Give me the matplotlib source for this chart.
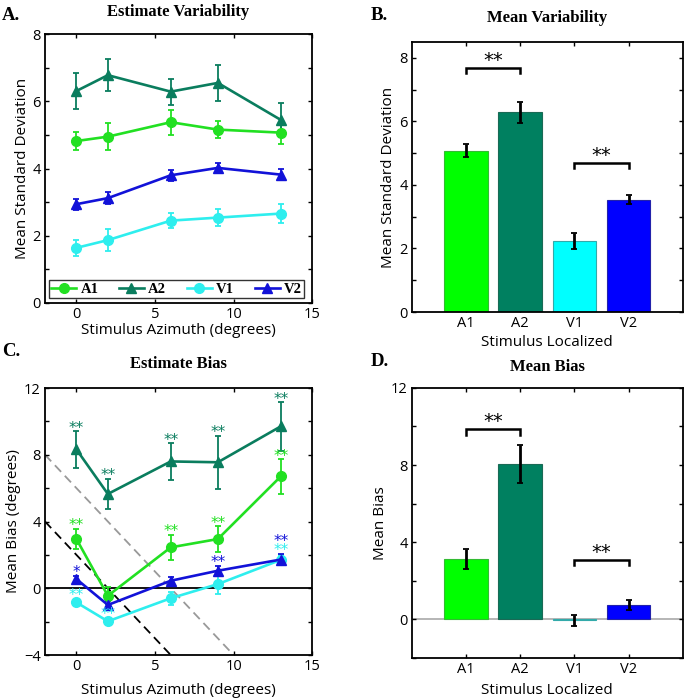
import matplotlib
matplotlib.use("Agg")
import matplotlib.pyplot as plt
from matplotlib.ticker import MultipleLocator, FuncFormatter
from matplotlib.lines import Line2D
import numpy as np

# ---------------- data ----------------
azimuth = [0, 2, 6, 9, 13]
series = ["A1", "A2", "V1", "V2"]

var_A1 = [4.82, 4.95, 5.38, 5.16, 5.07]
var_A1_err = [0.28, 0.40, 0.37, 0.25, 0.33]
var_A2 = [6.31, 6.78, 6.29, 6.55, 5.45]
var_A2_err = [0.53, 0.48, 0.39, 0.53, 0.50]
var_V1 = [1.64, 1.87, 2.45, 2.54, 2.66]
var_V1_err = [0.23, 0.33, 0.23, 0.26, 0.28]
var_V2 = [2.94, 3.12, 3.80, 4.02, 3.82]
var_V2_err = [0.16, 0.18, 0.16, 0.16, 0.17]

mean_var = [5.08, 6.28, 2.23, 3.54]
mean_var_err = [0.20, 0.32, 0.25, 0.13]

bias_A1 = [2.95, -0.45, 2.45, 2.95, 6.70]
bias_A1_err = [0.62, 0.50, 0.76, 0.76, 1.04]
bias_A2 = [8.32, 5.65, 7.60, 7.55, 9.70]
bias_A2_err = [1.10, 0.90, 1.10, 1.60, 1.45]
bias_V1 = [-0.85, -1.98, -0.60, 0.25, 1.70]
bias_V1_err = [0.22, 0.20, 0.40, 0.60, 0.30]
bias_V2 = [0.55, -1.00, 0.45, 1.05, 1.72]
bias_V2_err = [0.20, 0.22, 0.25, 0.30, 0.35]

# significance stars per point ('' = none)
stars_A1 = ["**", "", "**", "**", "**"]
stars_A2 = ["**", "**", "**", "**", "**"]
stars_V1 = ["**", "**", "", "", "**"]
stars_V2 = ["*", "", "", "**", "**"]

mean_bias = [3.13, 8.04, -0.05, 0.74]
mean_bias_err = [0.52, 0.98, 0.29, 0.26]

# ---------------- style ----------------
line_cols = {"A1": "#22e022", "A2": "#0a7d5e", "V1": "#2eeeee", "V2": "#1212d8"}
bar_cols = {"A1": "#00ff00", "A2": "#008060", "V1": "#00ffff", "V2": "#0000ff"}
bar_edges = {"A1": "#33bb33", "A2": "#1a6a55", "V1": "#33aaaa", "V2": "#2222aa"}
markers = {"A1": "o", "A2": "^", "V1": "o", "V2": "^"}

SANS = ["Open Sans", "DejaVu Sans"]
SERIF = ["Liberation Serif", "DejaVu Serif"]
plt.rcParams["font.family"] = SANS
plt.rcParams["font.size"] = 10.5
plt.rcParams["axes.linewidth"] = 1.3

fig = plt.figure(figsize=(6.85, 6.98), dpi=100)
axA = fig.add_axes([0.0657, 0.566, 0.390, 0.385])
axB = fig.add_axes([0.601, 0.553, 0.396, 0.387])
axC = fig.add_axes([0.0657, 0.0616, 0.390, 0.3825])
axD = fig.add_axes([0.601, 0.0573, 0.396, 0.387])


def style(ax, ystep, labstep):
    ax.tick_params(direction="in", top=True, right=True, length=3, width=1,
                   labelsize=10.5, pad=3)
    ax.yaxis.set_major_locator(MultipleLocator(ystep))
    ax.yaxis.set_major_formatter(FuncFormatter(
        lambda v, p: ("%d" % round(v)).replace("-", "\u2212")
        if abs(v / labstep - round(v / labstep)) < 1e-6 else ""))


def title(ax, text, letter, lx, ly, ty):
    fig.text(lx, ly, letter, family=SERIF, weight="bold", fontsize=13.5, va="center", ha="left")
    bb = ax.get_position()
    fig.text((bb.x0 + bb.x1) / 2, ty, text, family=SERIF, weight="bold", fontsize=12,
             ha="center", va="center")


# ---------------- Panel A ----------------
var_data = {"A1": (var_A1, var_A1_err), "A2": (var_A2, var_A2_err),
            "V1": (var_V1, var_V1_err), "V2": (var_V2, var_V2_err)}
for s in series:
    v, e = var_data[s]
    axA.errorbar(azimuth, v, yerr=e, color=line_cols[s], marker=markers[s],
                 markersize=7.5 if markers[s] == "^" else 7, lw=1.9, elinewidth=1.3,
                 capsize=2.5, capthick=1.3, label=s)
axA.set_xlim(-2, 15)
axA.set_ylim(0, 8)
axA.xaxis.set_major_locator(MultipleLocator(5))
style(axA, 1, 2)
axA.set_xlabel("Stimulus Azimuth (degrees)", fontsize=11, labelpad=1)
axA.set_ylabel("Mean Standard Deviation", fontsize=11, labelpad=2)
handles = [Line2D([0], [0], color=line_cols[s], marker=markers[s], lw=1.9,
                  markersize=7 if markers[s] == "o" else 7.5) for s in series]
leg = axA.legend(handles, series, ncol=4, loc="lower left", mode="expand",
                 bbox_to_anchor=(0.015, 0.019, 0.955, 0.063), frameon=True, fancybox=False,
                 handlelength=1.7, handletextpad=0.3, borderpad=0.15, borderaxespad=0,
                 prop={"family": SERIF, "weight": "bold", "size": 10.5})
leg.get_frame().set_edgecolor("black")
leg.get_frame().set_linewidth(1.0)
title(axA, "Estimate Variability", "A.", 0.003, 0.978, 0.983)

# ---------------- Panel B ----------------
xpos = np.arange(1, len(series) + 1)
axB.bar(xpos, mean_var, width=0.8, color=[bar_cols[s] for s in series],
        edgecolor=[bar_edges[s] for s in series], linewidth=0.8, zorder=2)
axB.errorbar(xpos, mean_var, yerr=mean_var_err, fmt="none", ecolor="black",
             elinewidth=2, capsize=2, capthick=1.3, zorder=3)
axB.set_xlim(0, 5)
axB.set_ylim(0, 8.5)
axB.set_xticks(xpos)
axB.set_xticklabels(series)
style(axB, 1, 2)
axB.set_xlabel("Stimulus Localized", fontsize=11, labelpad=3)
axB.set_ylabel("Mean Standard Deviation", fontsize=11, labelpad=2)


def bracket(ax, x1, x2, y, drop, texty):
    ax.plot([x1, x1, x2, x2], [y - drop, y, y, y - drop], color="black", lw=1.8,
            solid_joinstyle="miter", zorder=4)
    ax.text((x1 + x2) / 2, texty, "**", ha="center", va="center", fontsize=14,
            family=["DejaVu Sans"], zorder=4)


bracket(axB, 1, 2, 7.69, 0.16, 7.92)
bracket(axB, 3, 4, 4.69, 0.17, 4.92)
title(axB, "Mean Variability", "B.", 0.541, 0.978, 0.974)

# ---------------- Panel C ----------------
bias_data = {"A1": (bias_A1, bias_A1_err, stars_A1), "A2": (bias_A2, bias_A2_err, stars_A2),
             "V1": (bias_V1, bias_V1_err, stars_V1), "V2": (bias_V2, bias_V2_err, stars_V2)}
xref = np.array([-2.0, 15.0])
axC.plot(xref, 2 - xref, ls=(0, (5, 3)), color="black", lw=1.3, zorder=1)
axC.plot(xref, 6 - xref, ls=(0, (5, 3)), color="#999999", lw=1.3, zorder=1)
axC.axhline(0, color="black", lw=1.3, zorder=1)
for s in series:
    v, e, st = bias_data[s]
    axC.errorbar(azimuth, v, yerr=e, color=line_cols[s], marker=markers[s],
                 markersize=7.5 if markers[s] == "^" else 7, lw=1.9, elinewidth=1.3,
                 capsize=2.5, capthick=1.3, zorder=3)

STAR_FS = 11
for s in series:
    v, e, st = bias_data[s]
    for x, val, err, txt in zip(azimuth, v, e, st):
        if not txt:
            continue
        off = 0.45
        if s == "V1" and x == 13:
            off = 0.52
        if s == "V2" and x == 13:
            off = 0.98
        axC.annotate(txt, xy=(x, val + err + off), xytext=(0, -0.59 * STAR_FS),
                     textcoords="offset points", color=line_cols[s], ha="center",
                     va="baseline", fontsize=STAR_FS, family=["DejaVu Sans"], zorder=4)
axC.set_xlim(-2, 15)
axC.set_ylim(-4, 12)
axC.xaxis.set_major_locator(MultipleLocator(5))
style(axC, 2, 4)
axC.set_xlabel("Stimulus Azimuth (degrees)", fontsize=11, labelpad=6)
axC.set_ylabel("Mean Bias (degrees)", fontsize=11, labelpad=2)
title(axC, "Estimate Bias", "C.", 0.003, 0.496, 0.479)

# ---------------- Panel D ----------------
axD.axhline(0, color="#b0b0b0", lw=1.3, zorder=1)
axD.bar(xpos, mean_bias, width=0.8, color=[bar_cols[s] for s in series],
        edgecolor=[bar_edges[s] for s in series], linewidth=0.8, zorder=2)
axD.errorbar(xpos, mean_bias, yerr=mean_bias_err, fmt="none", ecolor="black",
             elinewidth=2, capsize=2, capthick=1.3, zorder=3)
axD.set_xlim(0, 5)
axD.set_ylim(-2, 12)
axD.set_xticks(xpos)
axD.set_xticklabels(series)
style(axD, 2, 4)
axD.set_xlabel("Stimulus Localized", fontsize=11, labelpad=4)
axD.set_ylabel("Mean Bias", fontsize=11, labelpad=2)
bracket(axD, 1, 2, 9.87, 0.3, 10.25)
bracket(axD, 3, 4, 3.08, 0.28, 3.45)
title(axD, "Mean Bias", "D.", 0.541, 0.482, 0.474)

fig.savefig("out.png", dpi=100)
